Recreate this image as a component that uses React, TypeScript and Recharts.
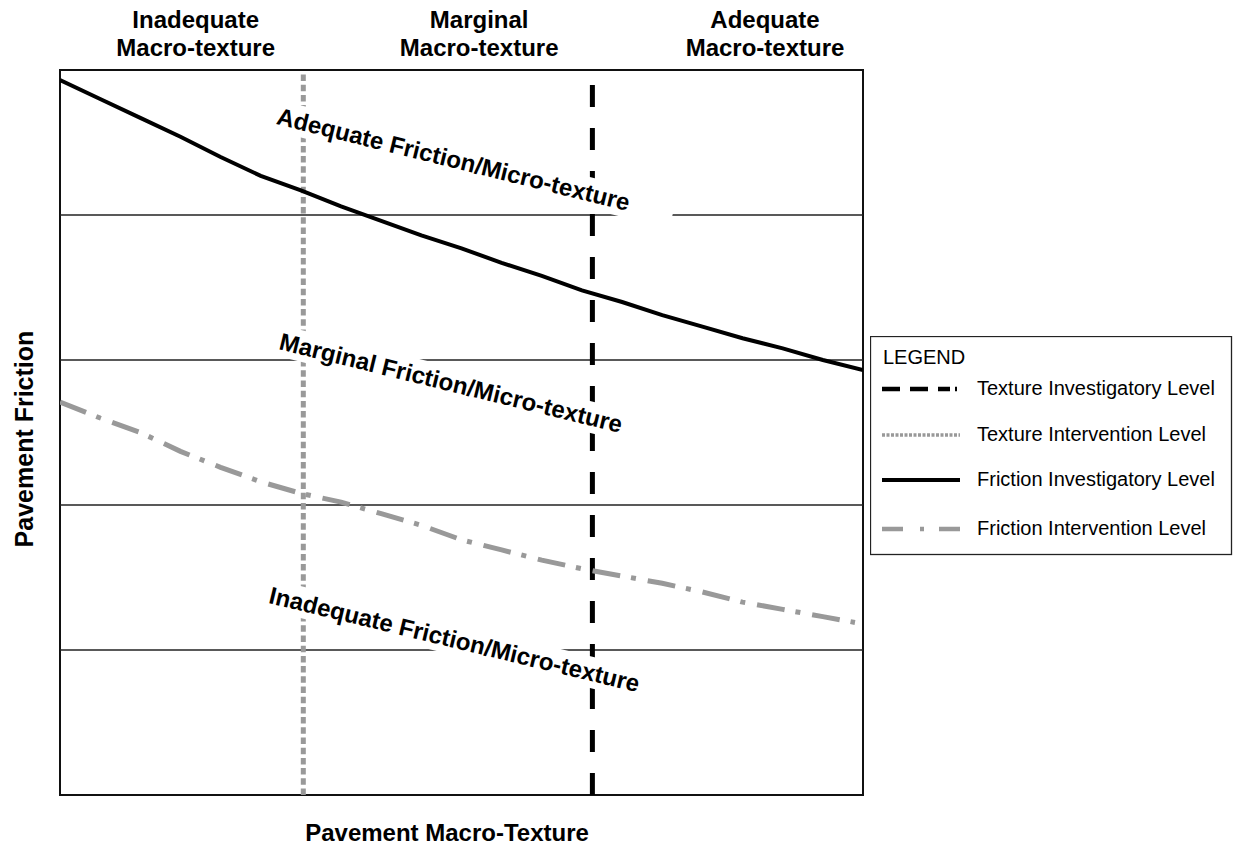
import { LineChart, Line, XAxis, YAxis, ReferenceLine, ReferenceArea, ReferenceDot, Legend } from 'recharts';

const FONT = '"Liberation Sans", Arial, Helvetica, sans-serif';

// x = pavement macro-texture across the frame (0..10), y = pavement friction (0..5, one unit per grid band)
const macroSteps = [0, 0.5, 1, 1.5, 2, 2.5, 3, 3.5, 4, 4.5, 5, 5.5, 6, 6.5, 7, 7.5, 8, 8.5, 9, 9.5, 10];
const frictionInvestigatory = [4.93, 4.8, 4.67, 4.54, 4.4, 4.27, 4.17, 4.06, 3.96, 3.86, 3.77, 3.67, 3.58, 3.48, 3.4, 3.31, 3.23, 3.15, 3.08, 3.0, 2.93];
const interventionSteps = [0, 0.5, 1, 1.5, 2, 2.5, 3, 3.5, 4, 4.5, 5, 5.5, 6, 6.5, 7, 7.5, 8, 8.5, 9, 9.5, 9.9];
const frictionIntervention = [2.71, 2.6, 2.5, 2.37, 2.26, 2.16, 2.08, 2.02, 1.94, 1.86, 1.76, 1.69, 1.62, 1.56, 1.51, 1.46, 1.4, 1.33, 1.28, 1.23, 1.19];

const gridLevels = [1, 2, 3, 4];
const textureIntervention = 3.03;
const textureInvestigatory = 6.63;

const macroBands = [
  ['Inadequate', 'Macro-texture'],
  ['Marginal', 'Macro-texture'],
  ['Adequate', 'Macro-texture'],
];
const macroBandCentres = [1.69, 5.22, 8.78];

const frictionBands = ['Adequate Friction/Micro-texture', 'Marginal Friction/Micro-texture', 'Inadequate Friction/Micro-texture'];
const frictionBandAnchors = [
  { x: 4.875, y: 4.328, angle: 13.9 },
  { x: 4.844, y: 2.786, angle: 13.8 },
  { x: 4.888, y: 1.017, angle: 13.6 },
];

const legendItems = ['Texture Investigatory Level', 'Texture Intervention Level', 'Friction Investigatory Level', 'Friction Intervention Level'];

const investigatoryData = macroSteps.map((x, i) => ({ x, y: frictionInvestigatory[i] }));
const interventionData = interventionSteps.map((x, i) => ({ x, y: frictionIntervention[i] }));

const pos = (p: any) => ({ x: p?.viewBox?.x ?? 0, y: p?.viewBox?.y ?? 0 });

// white box behind each band caption, like the text boxes in the original drawing
const frictionBandLabel = (text: string, angle: number) => (p: any) => {
  const { x, y } = pos(p);
  const w = text.length * 12 + 20;
  return (
    <g transform={`translate(${x},${y}) rotate(${angle})`}>
      <rect x={-w / 2} y={-24} width={w + 30} height={31} fill="#fff" />
      <text textAnchor="middle" fontFamily={FONT} fontWeight="bold" fontSize={24} fill="#000">
        {text}
      </text>
    </g>
  );
};

const macroBandLabel = (lines: string[]) => (p: any) => {
  const { x, y } = pos(p);
  return (
    <text textAnchor="middle" fontFamily={FONT} fontWeight="bold" fontSize={24} fill="#000">
      <tspan x={x} y={y - 42.5}>{lines[0]}</tspan>
      <tspan x={x} y={y - 14.5}>{lines[1]}</tspan>
    </text>
  );
};

const axisTitle = (text: string, angle: number, size: number) => (p: any) => {
  const { x, y } = pos(p);
  return (
    <text transform={`translate(${x},${y}) rotate(${angle})`} textAnchor="middle" fontFamily={FONT} fontWeight="bold" fontSize={size} fill="#000">
      {text}
    </text>
  );
};

const sampleStyles = [
  { stroke: '#000', width: 4.5, dash: '18 10 18 10 12 5 2 100' },
  { stroke: '#999', width: 3.5, dash: '3 1.5' },
  { stroke: '#000', width: 4, dash: undefined },
  { stroke: '#999', width: 4.5, dash: '21 17 4 15 30' },
];
const rowY = [53, 99, 144, 193];

const LegendBox = () => (
  <svg width={363} height={220} style={{ display: 'block' }}>
    <rect x={0.5} y={0.5} width={361} height={218} fill="#fff" stroke="#222" strokeWidth={1.3} />
    <text x={13} y={28} fontFamily={FONT} fontSize={20} fill="#000">LEGEND</text>
    {legendItems.map((name, i) => (
      <g key={name}>
        <line x1={12} x2={90} y1={rowY[i]} y2={rowY[i]} stroke={sampleStyles[i].stroke} strokeWidth={sampleStyles[i].width} strokeDasharray={sampleStyles[i].dash} />
        <text x={107} y={rowY[i] + 6} fontFamily={FONT} fontSize={20} fill="#000">{name}</text>
      </g>
    ))}
  </svg>
);

export default function App() {
  return (
    <div style={{ position: 'absolute', left: 0, top: 0, width: 1233, height: 845, background: '#fff' }}>
      <LineChart width={1233} height={845} margin={{ top: 70, right: 370, bottom: 50, left: 60 }}>
        <XAxis type="number" dataKey="x" domain={[0, 10]} hide allowDataOverflow />
        <YAxis type="number" dataKey="y" domain={[0, 5]} hide allowDataOverflow />
        <ReferenceArea x1={0} x2={10} y1={0} y2={5} fill="none" stroke="#111" strokeWidth={2} fillOpacity={0} ifOverflow="visible" />
        {gridLevels.map((g) => (
          <ReferenceLine key={g} y={g} stroke="#222" strokeWidth={1.7} />
        ))}
        <ReferenceLine
          segment={[{ x: textureIntervention, y: 0 }, { x: textureIntervention, y: 4.97 }]}
          stroke="#999"
          strokeWidth={5}
          strokeDasharray="6.5 3.7"
        />
        <ReferenceLine
          segment={[{ x: textureInvestigatory, y: 0 }, { x: textureInvestigatory, y: 4.9 }]}
          stroke="#000"
          strokeWidth={5}
          strokeDasharray="22 21"
        />
        <Line data={investigatoryData} dataKey="y" type="linear" stroke="#000" strokeWidth={4} dot={false} isAnimationActive={false} />
        <Line data={interventionData} dataKey="y" type="linear" stroke="#999" strokeWidth={5} strokeDasharray="28 11 5 12" dot={false} isAnimationActive={false} />
        {frictionBands.map((t, i) => (
          <ReferenceDot key={t} x={frictionBandAnchors[i].x} y={frictionBandAnchors[i].y} r={0} fill="none" stroke="none" ifOverflow="visible" label={frictionBandLabel(t, frictionBandAnchors[i].angle)} />
        ))}
        {macroBands.map((lines, i) => (
          <ReferenceDot key={lines[0]} x={macroBandCentres[i]} y={5} r={0} fill="none" stroke="none" ifOverflow="visible" label={macroBandLabel(lines)} />
        ))}
        <ReferenceDot x={4.82} y={-0.317} r={0} fill="none" stroke="none" ifOverflow="visible" label={axisTitle('Pavement Macro-Texture', 0, 24)} />
        <ReferenceDot x={-0.336} y={2.455} r={0} fill="none" stroke="none" ifOverflow="visible" label={axisTitle('Pavement Friction', -90, 25)} />
        <Legend
          layout="vertical"
          align="center"
          verticalAlign="middle"
          wrapperStyle={{ left: 870, top: 336, width: 363, height: 220 }}
          content={() => <LegendBox />}
        />
      </LineChart>
    </div>
  );
}
